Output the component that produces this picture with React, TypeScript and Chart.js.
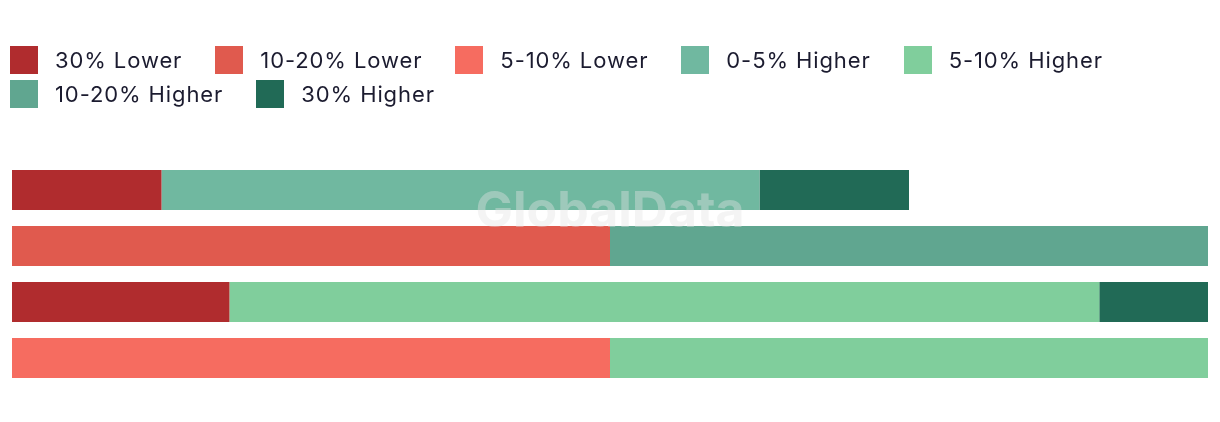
import React, { useEffect, useRef } from "react";
import { Chart, registerables } from "chart.js";

Chart.register(...registerables);

const categories = ["Row 1", "Row 2", "Row 3", "Row 4"];
const seriesLabels = ["30% Lower", "10-20% Lower", "5-10% Lower", "0-5% Higher", "5-10% Higher", "10-20% Higher", "30% Higher"];
const seriesColors = ["#b02c2e", "#e05a4e", "#f66c60", "#70b8a0", "#80ce9c", "#60a690", "#216a56"];
const lower30 = [12.5, null, 18.18, null];
const lower10_20 = [null, 50, null, null];
const lower5_10 = [null, null, null, 50];
const higher0_5 = [50, null, null, null];
const higher5_10 = [null, null, 72.73, 50];
const higher10_20 = [null, 50, null, null];
const higher30 = [12.5, null, 9.09, null];
const seriesValues = [lower30, lower10_20, lower5_10, higher0_5, higher5_10, higher10_20, higher30];

const FONT = "Inter, 'Open Sans', sans-serif";

const watermark = {
  id: "watermark",
  afterDatasetsDraw(chart: any) {
    const { ctx, chartArea } = chart;
    ctx.save();
    ctx.font = `bold 50px ${FONT}`;
    ctx.fillStyle = "rgba(228,228,228,0.4)";
    ctx.textAlign = "center";
    ctx.textBaseline = "middle";
    ctx.fillText("GlobalData", (chartArea.left + chartArea.right) / 2, 212 - 8);
    ctx.restore();
  },
};

export default function App() {
  const ref = useRef<HTMLCanvasElement | null>(null);
  useEffect(() => {
    if (!ref.current) return;
    const chart = new Chart(ref.current, {
      type: "bar",
      data: {
        labels: categories,
        datasets: seriesLabels.map((l, i) => ({
          label: l,
          data: seriesValues[i] as any,
          backgroundColor: seriesColors[i],
          borderWidth: 0,
          barPercentage: 1,
          categoryPercentage: 40 / 56,
        })),
      },
      options: {
        indexAxis: "y",
        animation: false,
        responsive: false,
        maintainAspectRatio: false,
        layout: { padding: { top: 154, bottom: 28, left: 4, right: 4 } },
        plugins: { legend: { display: false }, tooltip: { enabled: false } },
        scales: {
          x: { stacked: true, min: 0, max: 100, display: false },
          y: { stacked: true, display: false },
        },
      },
      plugins: [watermark],
    });
    return () => chart.destroy();
  }, []);

  return (
    <div style={{ position: "relative", width: 1204, height: 406 }}>
      <canvas ref={ref} width={1204} height={406} style={{ position: "absolute", left: 0, top: 0 }} />
      <div
        style={{
          position: "absolute",
          left: 2,
          top: 35,
          width: 1204,
          display: "flex",
          flexWrap: "wrap",
          fontFamily: FONT,
          fontSize: 22,
          letterSpacing: "0.9px",
          color: "#1b1b2f",
        }}
      >
        {seriesLabels.map((l, i) => (
          <div key={l} style={{ display: "flex", alignItems: "center", height: 34, marginRight: 33 }}>
            <span style={{ display: "inline-block", width: 28, height: 28, background: seriesColors[i], marginRight: 17 }} />
            <span>{l}</span>
          </div>
        ))}
      </div>
    </div>
  );
}
